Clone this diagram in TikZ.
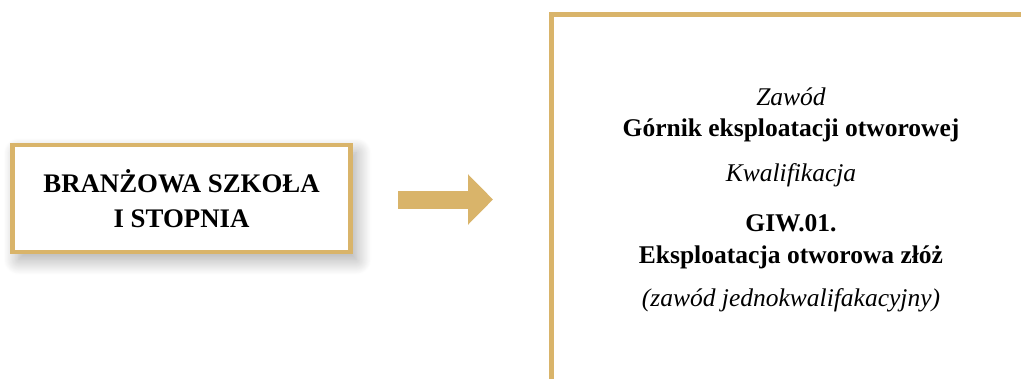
\documentclass[tikz,border=0pt]{standalone}
\usepackage{fontspec}
\setmainfont{Liberation Serif}
\usepackage{xcolor}
\usetikzlibrary{arrows.meta, positioning, shadows.blur}

\definecolor{zloto}{RGB}{217,180,106}

\begin{document}
\begin{tikzpicture}[
    x=1pt, y=-1pt,
    ramka/.style={rectangle, draw=zloto, line width=4.5pt, fill=white},
    tytul/.style={font=\fontsize{26.8}{35}\selectfont\bfseries, align=center},
    opis/.style={font=\fontsize{25.5}{30}\selectfont\itshape, anchor=base},
    nazwa/.style={font=\fontsize{25.5}{30}\selectfont\bfseries, anchor=base},
    strzalka/.style={draw=zloto, line width=18pt, -{Triangle[width=49pt, length=25pt]}}
]
\useasboundingbox (0,0) rectangle (1021,378);
\clip (0,0) rectangle (1021,378);

% Left box
\node[ramka, tytul, minimum width=338pt, minimum height=107pt,
      blur shadow={shadow xshift=6pt, shadow yshift=-8pt, shadow blur radius=15pt,
                   shadow blur steps=20, shadow opacity=35}]
      (szkola) at (181.5,198.3) {BRANŻOWA SZKOŁA\\I STOPNIA};

% Arrow
\coordinate (arrowtail) at (398,199.5);
\coordinate (arrowtip) at (493,199.5);
\draw[strzalka] (arrowtail) -- (arrowtip);

% Right box
\node[ramka, line width=5pt, anchor=north west, minimum width=520pt, minimum height=420pt]
      (zawodbox) at (548.5,12) {};

% Texts in the right box
\node[opis] (zawod) at (791,105.7) {Zawód};
\node[nazwa] (gornik) at (791,136.7) {Górnik eksploatacji otworowej};
\node[opis] (kwal) at (791,181.7) {Kwalifikacja};
\node[nazwa] (giw) at (791,231.7) {GIW.01.};
\node[nazwa] (eksp) at (791,263.3) {Eksploatacja otworowa złóż};
\node[opis] (jedno) at (791,306.7) {(zawód jednokwalifakacyjny)};

\end{tikzpicture}
\end{document}
